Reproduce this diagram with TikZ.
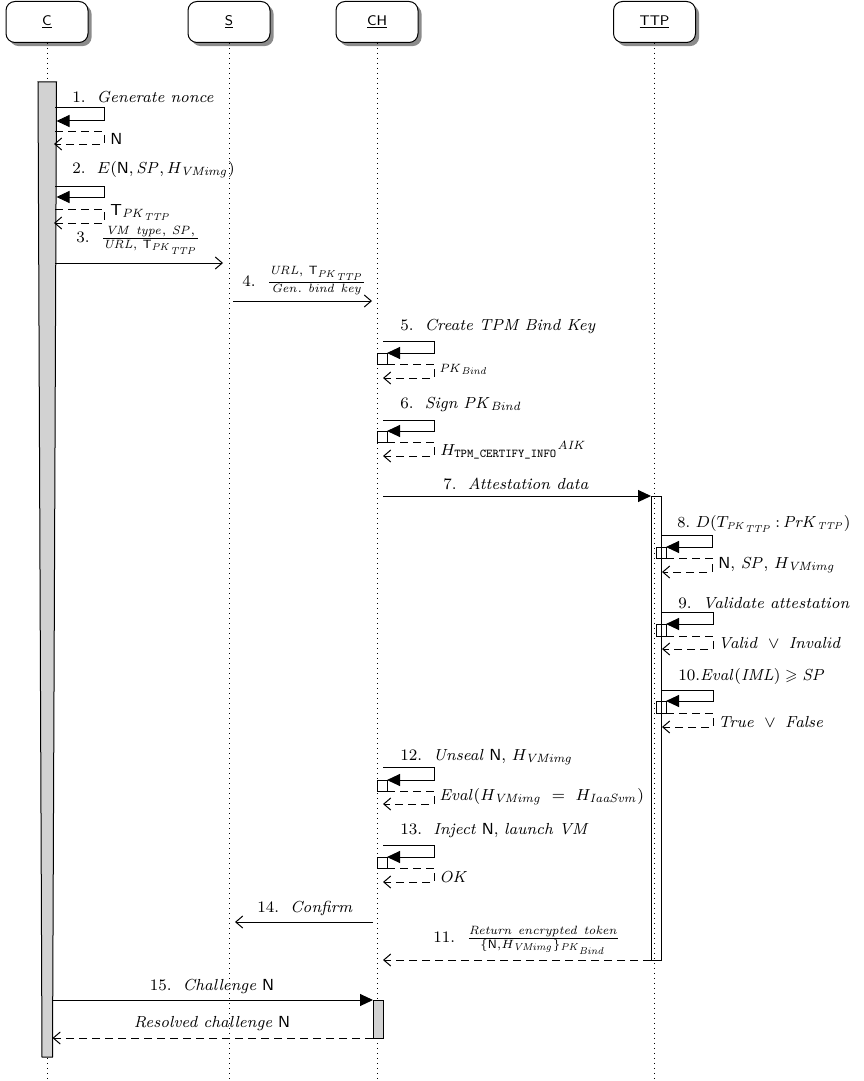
\documentclass[tikz,border=0pt]{standalone}
\usepackage{amsmath,amssymb}
\usetikzlibrary{arrows.meta,shadows}
\newcommand{\mi}[1]{\mathit{#1}}
\begin{document}
\begin{tikzpicture}[x=0.5pt,y=-0.5pt,
  font=\fontsize{8}{10}\selectfont,
  actor/.style={draw, line width=0.5pt, rounded corners=4.5pt, minimum width=41pt, minimum height=20.5pt, fill=white,
    drop shadow={shadow xshift=1.8pt, shadow yshift=-1.8pt, fill=black!45, opacity=1},
    font=\fontsize{7}{8}\sffamily},
  life/.style={dotted, line width=0.5pt},
  syncmsg/.style={line width=0.5pt, -{Triangle[length=6.5pt,width=6pt]}},
  asyncmsg/.style={line width=0.5pt, -{Straight Barb[length=3.5pt,width=6pt]}},
  retmsg/.style={line width=0.5pt, dash pattern=on 4pt off 2.5pt, -{Straight Barb[length=3.5pt,width=6pt]}},
  gbar/.style={draw, fill=gray!35, line width=0.5pt},
  wbar/.style={draw, line width=0.5pt},
  lbl/.style={inner sep=0pt, anchor=base west},
  clbl/.style={inner sep=0pt, anchor=base},
]
\useasboundingbox (0,0) rectangle (863,1081);

% actors
\node[actor] (C) at (47,22) {\underline{C}};
\node[actor] (S) at (229,22) {\underline{S}};
\node[actor] (CH) at (377,22) {\underline{CH}};
\node[actor] (TTP) at (654.5,22) {\underline{TTP}};

% lifelines
\coordinate (Cend) at (47,1081);
\coordinate (Send) at (229,1081);
\coordinate (CHend) at (377,1081);
\coordinate (TTPend) at (654.5,1081);
\draw[life] (C) -- (Cend);
\draw[life] (S) -- (Send);
\draw[life] (CH) -- (CHend);
\draw[life] (TTP) -- (TTPend);

% activation bars
\draw[gbar] (38,82) -- (56.5,82) -- (52.5,1057) -- (42,1057) -- cycle;
\draw[wbar] (651,496) rectangle (661,960);
\draw[gbar] (373,1000) rectangle (383,1038);

% 1
\node[lbl] (l1) at (72,103) {1.\ \ \textit{Generate nonce}};
\coordinate (m1a) at (55,108); \coordinate (m1b) at (104,108); \coordinate (m1c) at (56.5,121);
\draw[syncmsg] (m1a) -- (m1b) |- (m1c);
\coordinate (r1a) at (55,132); \coordinate (r1b) at (104,132); \coordinate (r1c) at (54,144);
\draw[retmsg] (r1a) -- (r1b) |- (r1c);
\node[lbl] (r1l) at (110,145) {\textsf{N}};

% 2
\node[lbl] (l2) at (72,173) {2.\ \ $E(\mathsf{N}, \mi{SP}, H_{\mi{VMimg}})$};
\coordinate (m2a) at (55,186); \coordinate (m2b) at (104,186); \coordinate (m2c) at (56.5,197);
\draw[syncmsg] (m2a) -- (m2b) |- (m2c);
\coordinate (r2a) at (55,209); \coordinate (r2b) at (104,209); \coordinate (r2c) at (54,223);
\draw[retmsg] (r2a) -- (r2b) |- (r2c);
\node[lbl] (r2l) at (110,215) {$\mathsf{T}_{\mi{PK}_{\mi{TTP}}}$};

% 3
\node[lbl] (l3) at (76,242) {3.\ \ $\frac{\mi{VM\ type},\ \mi{SP},}{\mi{URL},\ \mathsf{T}_{\mi{PK}_{\mi{TTP}}}}$};
\coordinate (m3a) at (55,263); \coordinate (m3b) at (223,263);
\draw[asyncmsg] (m3a) -- (m3b);

% 4
\node[lbl] (l4) at (242,286) {4.\ \ $\frac{\mi{URL},\ \mathsf{T}_{\mi{PK}_{\mi{TTP}}}}{\mi{Gen.\ bind\ key}}$};
\coordinate (m4a) at (233,301); \coordinate (m4b) at (372,301);
\draw[asyncmsg] (m4a) -- (m4b);

% 5
\node[lbl] (l5) at (400,330) {5.\ \ \textit{Create TPM Bind Key}};
\coordinate (m5a) at (383,341); \coordinate (m5b) at (434,341); \coordinate (m5c) at (387,353);
\draw[syncmsg] (m5a) -- (m5b) |- (m5c);
\draw[wbar] (377,353) rectangle (387,364);
\coordinate (r5a) at (387,364); \coordinate (r5b) at (434,364); \coordinate (r5c) at (383,378);
\draw[retmsg] (r5a) -- (r5b) |- (r5c);
\node[lbl] (r5l) at (439,372) {$\scriptstyle \mi{PK}_{\mi{Bind}}$};

% 6
\node[lbl] (l6) at (400,408) {6.\ \ \textit{Sign} $\mi{PK}_{\mi{Bind}}$};
\coordinate (m6a) at (383,420); \coordinate (m6b) at (434,420); \coordinate (m6c) at (387,431);
\draw[syncmsg] (m6a) -- (m6b) |- (m6c);
\draw[wbar] (377,431) rectangle (387,442);
\coordinate (r6a) at (387,442); \coordinate (r6b) at (434,442); \coordinate (r6c) at (383,456);
\draw[retmsg] (r6a) -- (r6b) |- (r6c);
\node[lbl] (r6l) at (440,455) {${H_{\text{\ttfamily TPM\_CERTIFY\_INFO}}}^{\mi{AIK}}$};

% 7
\node[clbl] (l7) at (516,489) {7.\ \ \textit{Attestation data}};
\coordinate (m7a) at (383,496); \coordinate (m7b) at (651,496);
\draw[syncmsg] (m7a) -- (m7b);

% 8
\node[lbl, font=\fontsize{7.7}{9}\selectfont] (l8) at (677,527) {8.\ $D(T_{\mi{PK}_{\mi{TTP}}}\,{:}\,\mi{PrK}_{\mi{TTP}})$};
\coordinate (m8a) at (661,535); \coordinate (m8b) at (712,535); \coordinate (m8c) at (666,547);
\draw[syncmsg] (m8a) -- (m8b) |- (m8c);
\draw[wbar] (656,547) rectangle (666,558);
\coordinate (r8a) at (666,558); \coordinate (r8b) at (712,558); \coordinate (r8c) at (662,572);
\draw[retmsg] (r8a) -- (r8b) |- (r8c);
\node[lbl] (r8l) at (718,568) {\textsf{N}, $\mi{SP}$, $H_{\mi{VMimg}}$};

% 9
\node[lbl] (l9) at (678,608) {9.\ \ \textit{Validate attestation}};
\coordinate (m9a) at (661,612); \coordinate (m9b) at (713,612); \coordinate (m9c) at (666,624);
\draw[syncmsg] (m9a) -- (m9b) |- (m9c);
\draw[wbar] (656,624) rectangle (666,636);
\coordinate (r9a) at (666,636); \coordinate (r9b) at (713,636); \coordinate (r9c) at (662,649);
\draw[retmsg] (r9a) -- (r9b) |- (r9c);
\node[lbl] (r9l) at (718,648) {$\mi{Valid}\ \vee\ \mi{Invalid}$};

% 10
\node[lbl] (l10) at (678,680) {10.$\mi{Eval}(\mi{IML}) \geqslant \mi{SP}$};
\coordinate (m10a) at (661,690); \coordinate (m10b) at (713,690); \coordinate (m10c) at (666,701);
\draw[syncmsg] (m10a) -- (m10b) |- (m10c);
\draw[wbar] (656,701) rectangle (666,713);
\coordinate (r10a) at (666,713); \coordinate (r10b) at (713,713); \coordinate (r10c) at (662,727);
\draw[retmsg] (r10a) -- (r10b) |- (r10c);
\node[lbl] (r10l) at (718,727) {$\mi{True}\ \vee\ \mi{False}$};

% 12
\node[lbl] (l12) at (400,760) {12.\ \ \textit{Unseal} \textsf{N}, $H_{\mi{VMimg}}$};
\coordinate (m12a) at (383,767); \coordinate (m12b) at (434,767); \coordinate (m12c) at (387,780);
\draw[syncmsg] (m12a) -- (m12b) |- (m12c);
\draw[wbar] (377,780) rectangle (387,791);
\coordinate (r12a) at (387,791); \coordinate (r12b) at (434,791); \coordinate (r12c) at (383,804);
\draw[retmsg] (r12a) -- (r12b) |- (r12c);
\node[lbl] (r12l) at (439,800) {$\mi{Eval}(H_{\mi{VMimg}}\ =\ H_{\mi{IaaSvm}})$};

% 13
\node[lbl] (l13) at (400,834) {13.\ \ \textit{Inject} \textsf{N},\ \textit{launch VM}};
\coordinate (m13a) at (383,845); \coordinate (m13b) at (434,845); \coordinate (m13c) at (387,857);
\draw[syncmsg] (m13a) -- (m13b) |- (m13c);
\draw[wbar] (377,857) rectangle (387,868);
\coordinate (r13a) at (387,868); \coordinate (r13b) at (434,868); \coordinate (r13c) at (383,882);
\draw[retmsg] (r13a) -- (r13b) |- (r13c);
\node[lbl] (r13l) at (439,882) {\textit{OK}};

% 14
\node[lbl] (l14) at (257,912) {14.\ \ \textit{Confirm}};
\coordinate (m14a) at (373,922); \coordinate (m14b) at (235,922);
\draw[asyncmsg] (m14a) -- (m14b);

% 11
\node[lbl] (l11) at (433,942) {11.\ \ $\frac{\mi{Return\ encrypted\ token}}{\{\mathsf{N}, H_{\mi{VMimg}}\}_{\mi{PK}_{\mi{Bind}}}}$};
\coordinate (m11a) at (651,960); \coordinate (m11b) at (383,960);
\draw[retmsg] (m11a) -- (m11b);

% 15
\node[clbl] (l15) at (212,990) {15.\ \ \textit{Challenge} \textsf{N}};
\coordinate (m15a) at (52.5,1000); \coordinate (m15b) at (373,1000);
\draw[syncmsg] (m15a) -- (m15b);
\node[clbl] (l16) at (212,1027) {\textit{Resolved challenge} \textsf{N}};
\coordinate (m16a) at (373,1038); \coordinate (m16b) at (52.5,1038);
\draw[retmsg] (m16a) -- (m16b);
\end{tikzpicture}
\end{document}
